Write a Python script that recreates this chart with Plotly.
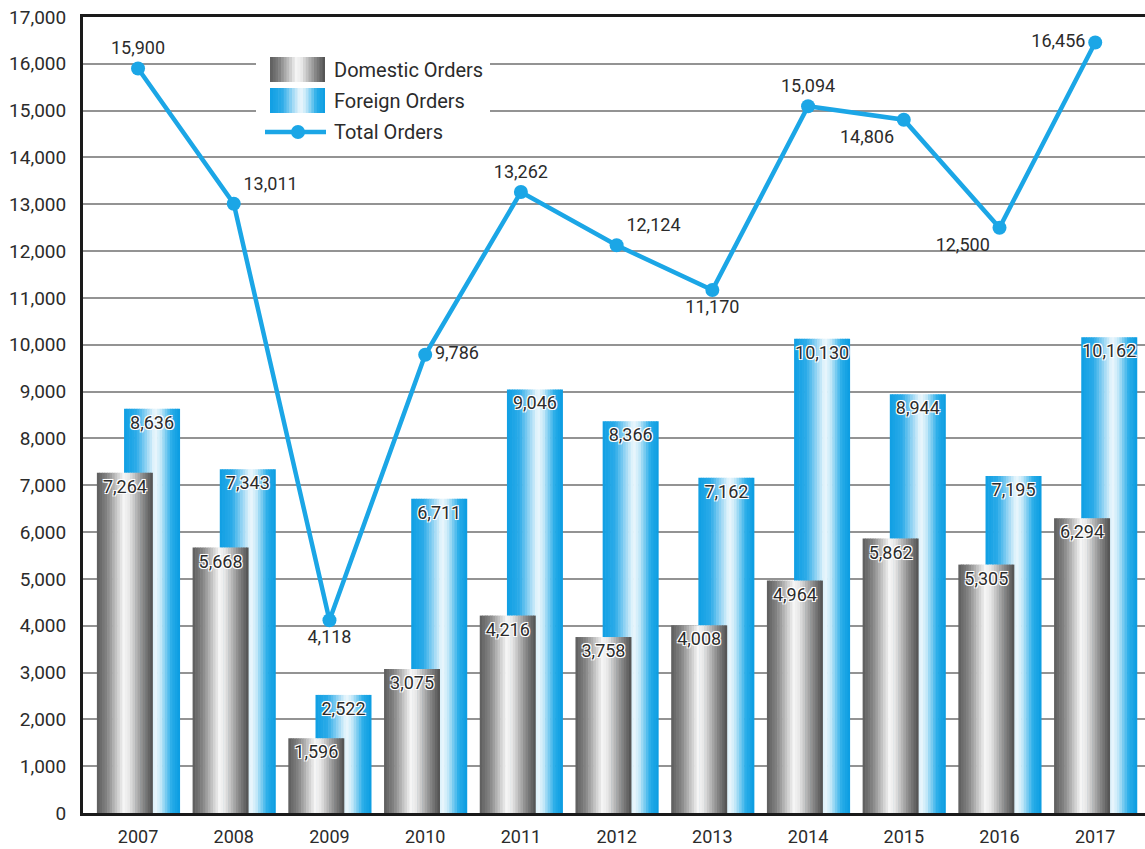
import plotly.graph_objects as go

years = ["2007", "2008", "2009", "2010", "2011", "2012", "2013", "2014", "2015", "2016", "2017"]
domestic = [7264, 5668, 1596, 3075, 4216, 3758, 4008, 4964, 5862, 5305, 6294]
foreign = [8636, 7343, 2522, 6711, 9046, 8366, 7162, 10130, 8944, 7195, 10162]
total = [15900, 13011, 4118, 9786, 13262, 12124, 11170, 15094, 14806, 12500, 16456]
total_label_pos = ["top center", "top right", "bottom center", "middle right", "top center",
                   "top right", "bottom center", "top center", "bottom left", "bottom left", "middle left"]

W, H = 1145, 849
ML, MR, MT, MB = 83, 0, 17, 36
PW, PH = W - ML - MR, H - MT - MB

FONT = "Roboto, Open Sans, sans-serif"
TXT = "#2b2b2b"

gray_stops = [(0.0, "#5c5c5c"), (0.18, "#858585"), (0.48, "#f6f6f6"), (0.58, "#e6e6e6"),
              (0.82, "#8a8a8a"), (1.0, "#4e4e4e")]
blue_stops = [(0.0, "#0f9fe3"), (0.22, "#2cabe8"), (0.55, "#eef8fd"), (0.65, "#c8eaf9"),
              (0.85, "#27ace8"), (1.0, "#0a9be1")]


def hex2rgb(h):
    h = h.lstrip("#")
    return tuple(int(h[i:i + 2], 16) for i in (0, 2, 4))


def interp(stops, t):
    for (t0, c0), (t1, c1) in zip(stops, stops[1:]):
        if t0 <= t <= t1:
            f = (t - t0) / (t1 - t0) if t1 > t0 else 0
            a, b = hex2rgb(c0), hex2rgb(c1)
            return "rgb(%d,%d,%d)" % tuple(round(a[i] + (b[i] - a[i]) * f) for i in range(3))
    return stops[-1][1]


BAR_W = 0.585
N = 22
fig = go.Figure()


def add_gradient_bars(values, off, stops):
    for k in range(N):
        t = (k + 0.5) / N
        fig.add_trace(go.Bar(
            x=years, y=values, offset=off + k * BAR_W / N,
            width=BAR_W / N * (1.25 if k < N - 1 else 1.0),
            marker=dict(color=interp(stops, t), line=dict(width=0)),
            showlegend=False, hoverinfo="skip"))


def add_bar_labels(values, off):
    fig.add_trace(go.Bar(
        x=years, y=values, offset=off, width=BAR_W,
        marker=dict(color="rgba(0,0,0,0)", line=dict(width=0)),
        text=[f"{v:,}" for v in values], textposition="inside", insidetextanchor="end",
        textangle=0, constraintext="none",
        insidetextfont=dict(family=FONT, size=18, color=TXT,
                            shadow="-1px -1px 0 #fff, 1px -1px 0 #fff, -1px 1px 0 #fff, 1px 1px 0 #fff, 0 0 2px #fff"),
        showlegend=False, hoverinfo="skip"))


add_gradient_bars(foreign, -0.146, blue_stops)
add_bar_labels(foreign, -0.146)
add_gradient_bars(domestic, -0.43, gray_stops)
add_bar_labels(domestic, -0.43)

LINE_C = "#1ba6e6"
fig.add_trace(go.Scatter(
    x=years, y=total, mode="lines+markers+text",
    line=dict(color=LINE_C, width=4.5), marker=dict(color=LINE_C, size=14),
    text=[f"{v:,}" for v in total], textposition=total_label_pos,
    textfont=dict(family=FONT, size=18, color=TXT),
    showlegend=False, hoverinfo="skip", cliponaxis=False))


def px(x):
    return (x - ML) / PW


def py(y):
    return (H - MB - y) / PH


shapes = [dict(type="rect", xref="paper", yref="paper", x0=px(256), x1=px(490), y0=py(150), y1=py(48),
               fillcolor="white", line=dict(width=0), layer="above")]
M = 20
for (y0, y1, stops) in [(57, 82, gray_stops), (88, 113, blue_stops)]:
    for k in range(M):
        xa = 270 + k * 55 / M
        xb = 270 + (k + 1) * 55 / M + (0.6 if k < M - 1 else 0)
        shapes.append(dict(type="rect", xref="paper", yref="paper", x0=px(xa), x1=px(xb),
                           y0=py(y1), y1=py(y0), fillcolor=interp(stops, (k + 0.5) / M),
                           line=dict(width=0), layer="above"))
shapes.append(dict(type="line", xref="paper", yref="paper", x0=px(265), x1=px(326), y0=py(132), y1=py(132),
                   line=dict(color=LINE_C, width=4.5), layer="above"))
shapes.append(dict(type="circle", xref="paper", yref="paper", x0=px(291), x1=px(305), y0=py(139), y1=py(125),
                   fillcolor=LINE_C, line=dict(width=0), layer="above"))

annotations = []
for label, yy in [("Domestic Orders", 70), ("Foreign Orders", 101), ("Total Orders", 132)]:
    annotations.append(dict(text=label, xref="paper", yref="paper", x=px(332), y=py(yy),
                            xanchor="left", yanchor="middle", showarrow=False,
                            font=dict(family=FONT, size=20, color=TXT)))

fig.update_layout(
    width=W, height=H, margin=dict(l=ML, r=MR, t=MT, b=MB, autoexpand=False),
    paper_bgcolor="white", plot_bgcolor="white", barmode="overlay",
    shapes=shapes, annotations=annotations, showlegend=False,
    font=dict(family=FONT, color=TXT),
    xaxis=dict(type="category", range=[-0.575, 10.52], showgrid=False, showline=True,
               linecolor="#1a1a1a", linewidth=3, mirror=True, ticks="", automargin=False,
               tickfont=dict(family=FONT, size=18, color=TXT), ticklabelstandoff=5),
    yaxis=dict(range=[0, 17000], dtick=1000, tickformat=",d", showgrid=True,
               gridcolor="#939393", gridwidth=1.5, showline=True, linecolor="#1a1a1a",
               linewidth=3, ticks="", zeroline=False, automargin=False,
               tickfont=dict(family=FONT, size=19, color=TXT), ticklabelstandoff=10),
)

fig.write_html("out.html", config={"displayModeBar": False},
               post_script="document.body.style.margin='0';document.body.style.padding='0';")
